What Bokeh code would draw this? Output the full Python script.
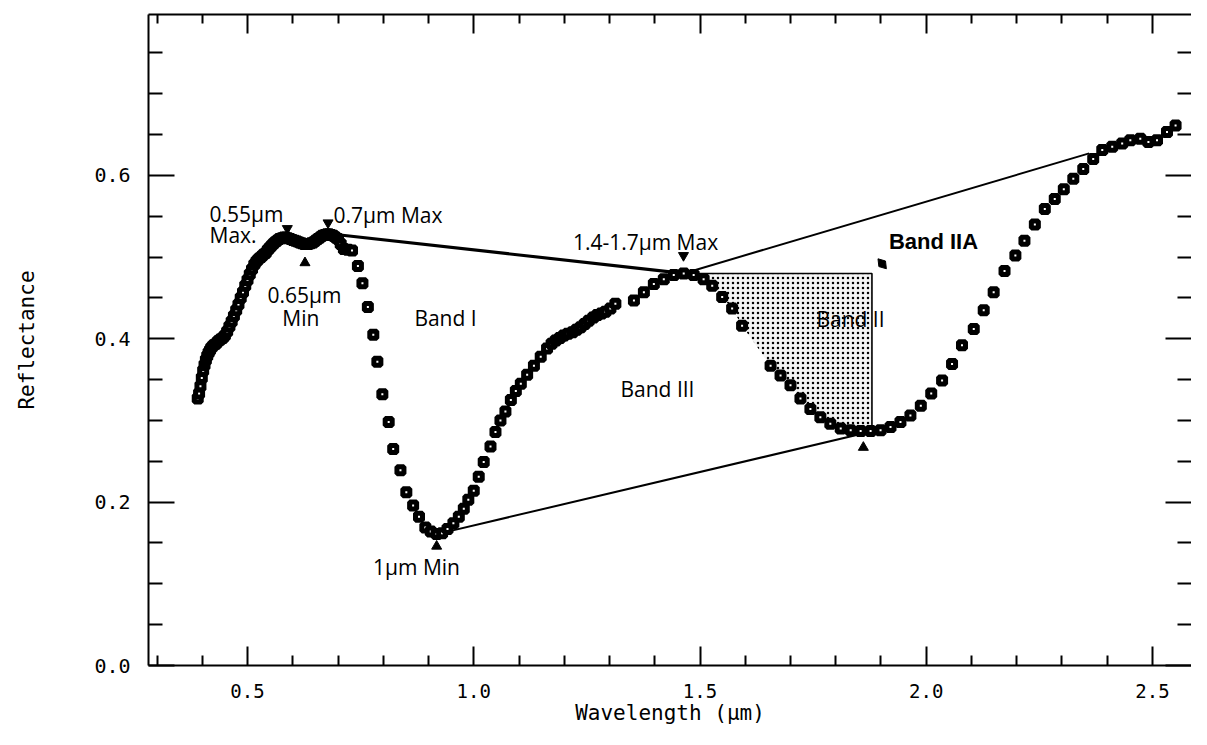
from bokeh.plotting import figure
from bokeh.models import Range1d, LinearAxis, Label, FixedTicker, NumeralTickFormatter
from bokeh.embed import file_html
from bokeh.resources import INLINE

# ---- spectrum ----
wavelength = [0.390, 0.393, 0.396, 0.399, 0.402, 0.405, 0.408, 0.411, 0.414, 0.417,
              0.420, 0.425, 0.430, 0.435, 0.440, 0.445, 0.450, 0.455, 0.460, 0.465,
              0.470, 0.475, 0.480, 0.485, 0.490, 0.495, 0.500, 0.505, 0.510, 0.515,
              0.520, 0.525, 0.530, 0.535, 0.540, 0.545, 0.550, 0.555, 0.560, 0.565,
              0.570, 0.575, 0.580, 0.585, 0.590, 0.595, 0.600, 0.605, 0.610, 0.615,
              0.620, 0.625, 0.630, 0.635, 0.640, 0.645, 0.650, 0.655, 0.660, 0.665,
              0.670, 0.675, 0.680, 0.685, 0.690, 0.695, 0.700, 0.706, 0.713, 0.722,
              0.731, 0.744, 0.754, 0.766,
              0.778, 0.787, 0.798, 0.812, 0.822, 0.838, 0.851, 0.866, 0.879, 0.893,
              0.905, 0.918, 0.930, 0.942, 0.955, 0.967, 0.978, 0.988, 1.000, 1.011,
              1.022, 1.037, 1.048, 1.059, 1.070, 1.082, 1.093, 1.104, 1.118, 1.133,
              1.148, 1.162, 1.172, 1.181, 1.190, 1.199, 1.208, 1.218, 1.227, 1.236,
              1.245, 1.254, 1.264, 1.273, 1.282, 1.291, 1.302, 1.313,
              1.354, 1.376, 1.398, 1.420, 1.442, 1.464, 1.486, 1.508, 1.527, 1.549,
              1.571, 1.593,
              1.656, 1.678, 1.700, 1.722, 1.744, 1.766, 1.788, 1.811, 1.833, 1.855,
              1.877, 1.899, 1.921, 1.943, 1.965, 1.988, 2.011, 2.035, 2.057, 2.079,
              2.105, 2.127, 2.149, 2.173, 2.197, 2.217, 2.240, 2.262, 2.284, 2.304,
              2.325, 2.347, 2.369, 2.389, 2.411, 2.433, 2.451, 2.473, 2.491, 2.510,
              2.532, 2.551]
reflectance = [0.327, 0.333, 0.342, 0.352, 0.361, 0.368, 0.374, 0.379, 0.383, 0.386,
               0.389, 0.392, 0.394, 0.397, 0.399, 0.401, 0.404, 0.409, 0.415, 0.421,
               0.428, 0.435, 0.442, 0.450, 0.457, 0.465, 0.472, 0.479, 0.485, 0.491,
               0.495, 0.498, 0.500, 0.503, 0.505, 0.509, 0.512, 0.515, 0.518, 0.520,
               0.522, 0.523, 0.524, 0.524, 0.523, 0.522, 0.521, 0.520, 0.519, 0.518,
               0.517, 0.516, 0.516, 0.516, 0.517, 0.518, 0.520, 0.522, 0.524, 0.526,
               0.527, 0.528, 0.528, 0.527, 0.526, 0.524, 0.522, 0.516, 0.510, 0.509,
               0.508, 0.489, 0.468, 0.439,
               0.405, 0.372, 0.332, 0.298, 0.265, 0.239, 0.212, 0.196, 0.182, 0.169,
               0.164, 0.161, 0.162, 0.167, 0.174, 0.182, 0.192, 0.203, 0.214, 0.231,
               0.249, 0.268, 0.286, 0.300, 0.311, 0.325, 0.336, 0.345, 0.356, 0.367,
               0.378, 0.388, 0.394, 0.398, 0.401, 0.404, 0.406, 0.408, 0.411, 0.414,
               0.418, 0.422, 0.426, 0.429, 0.431, 0.433, 0.437, 0.443,
               0.447, 0.457, 0.467, 0.473, 0.478, 0.480, 0.478, 0.473, 0.465, 0.451,
               0.437, 0.416,
               0.367, 0.355, 0.343, 0.327, 0.314, 0.304, 0.296, 0.290, 0.288, 0.287,
               0.287, 0.288, 0.292, 0.298, 0.306, 0.318, 0.333, 0.349, 0.369, 0.392,
               0.412, 0.435, 0.457, 0.483, 0.502, 0.520, 0.540, 0.559, 0.571, 0.583,
               0.596, 0.608, 0.620, 0.631, 0.635, 0.639, 0.643, 0.645, 0.641, 0.643,
               0.653, 0.661]

# continuum lines
band1_line_x = [0.690, 1.464]
band1_line_y = [0.528, 0.480]
upper_line_x = [1.464, 2.360]
upper_line_y = [0.480, 0.627]
lower_line_x = [0.935, 1.860]
lower_line_y = [0.163, 0.284]

# Band II area: bounded by the 1.4-1.7 um maximum level and the 2 um minimum position
band2_level = 0.480
band2_start = 1.464
band2_edge = 1.880
band2_bottom = 0.287

# arrows marking the band extrema
down_arrow_x = [0.588, 0.678, 1.4635]
down_arrow_y = [0.535, 0.542, 0.502]
up_arrow_x = [0.627, 0.918, 1.861]
up_arrow_y = [0.493, 0.146, 0.267]
band2a_mark_x = [1.9026]
band2a_mark_y = [0.4918]

# axis ticks
x_major = [0.5, 1.0, 1.5, 2.0, 2.5]
x_minor = [0.3, 0.4, 0.6, 0.7, 0.8, 0.9, 1.1, 1.2, 1.3, 1.4, 1.6, 1.7, 1.8, 1.9,
           2.1, 2.2, 2.3, 2.4]
y_major = [0.0, 0.2, 0.4, 0.6]
y_minor = [0.05, 0.10, 0.15, 0.25, 0.30, 0.35, 0.45, 0.50, 0.55, 0.65, 0.70, 0.75]

AX_FONT = "DejaVu Sans Mono"
ANN_FONT = "Open Sans"

p = figure(width=1191, height=729, output_backend="svg", toolbar_location=None,
           x_range=Range1d(0.2812, 2.5862), y_range=Range1d(0.0, 0.797),
           x_axis_location=None, y_axis_location=None,
           min_border_left=148, min_border_right=0, min_border_top=14,
           min_border_bottom=64)
p.outline_line_color = None
p.xgrid.visible = False
p.ygrid.visible = False
p.background_fill_color = "white"
p.border_fill_color = "white"


def base_style(ax):
    ax.major_tick_out = 0
    ax.minor_tick_out = 0
    ax.axis_line_width = 2
    ax.major_tick_line_width = 2
    ax.minor_tick_line_width = 2
    ax.axis_line_color = "black"
    ax.major_tick_line_color = "black"
    ax.minor_tick_line_color = "black"


def labelled_axis(major, minor, label, major_in, minor_in):
    ax = LinearAxis(ticker=FixedTicker(ticks=major, minor_ticks=minor),
                    formatter=NumeralTickFormatter(format="0.0"), axis_label=label)
    base_style(ax)
    ax.major_tick_in = major_in
    ax.minor_tick_in = minor_in
    ax.major_label_text_font = AX_FONT
    ax.major_label_text_font_size = "20px"
    ax.major_label_text_color = "black"
    ax.axis_label_text_font = AX_FONT
    ax.axis_label_text_font_size = "21px"
    ax.axis_label_text_font_style = "normal"
    ax.axis_label_text_color = "black"
    return ax


def tick_only_axis(ticks, length, show_line):
    # an axis without labels: the ticks are given as "minor" ticks only
    ax = LinearAxis(ticker=FixedTicker(ticks=[], minor_ticks=ticks))
    base_style(ax)
    ax.minor_tick_in = length
    ax.major_tick_in = 0
    ax.major_label_standoff = 0
    ax.axis_label_standoff = 0
    if not show_line:
        ax.axis_line_color = None
    return ax


xb = labelled_axis(x_major, x_minor, "Wavelength (μm)", 19, 10)
xb.major_label_text_font_size = "19px"
xb.major_label_standoff = 18
xb.axis_label_standoff = 0
p.add_layout(xb, "below")

yl = labelled_axis(y_major, y_minor, "Reflectance", 26, 14)
yl.major_label_standoff = 18
yl.axis_label_standoff = 52
p.add_layout(yl, "left")

p.add_layout(tick_only_axis(x_major, 19, True), "above")
p.add_layout(tick_only_axis(x_minor, 9, False), "above")
p.add_layout(tick_only_axis(y_major, 26, False), "right")
p.add_layout(tick_only_axis(y_minor, 14, False), "right")

# Band II stippled area
sel = [(w, r) for w, r in zip(wavelength, reflectance) if band2_start < w <= band2_edge]
patch_x = [band2_start, band2_edge, band2_edge] + [w for w, r in reversed(sel)]
patch_y = [band2_level, band2_level, band2_bottom] + [r for w, r in reversed(sel)]
p.patch(patch_x, patch_y, fill_color="#f4f4f4", line_color=None,
        hatch_pattern="dot", hatch_color="black", hatch_scale=5, hatch_weight=0.9)
p.line([band2_start, band2_edge, band2_edge], [band2_level, band2_level, band2_bottom],
       line_color="black", line_width=1.6)

# continua
p.line(band1_line_x, band1_line_y, line_color="black", line_width=3.2)
p.line(upper_line_x, upper_line_y, line_color="black", line_width=2)
p.line(lower_line_x, lower_line_y, line_color="black", line_width=2)

# spectrum
p.scatter(wavelength, reflectance, marker="square", size=7, fill_color="white",
          line_color="black", line_width=5)

# arrows
p.scatter(down_arrow_x, down_arrow_y, marker="inverted_triangle", size=10, color="black")
p.scatter(up_arrow_x, up_arrow_y, marker="triangle", size=10, color="black")
p.scatter(band2a_mark_x, band2a_mark_y, marker="diamond", size=13, angle=0.7, color="black")

labels = [
    ("0.55μm", 0.416, 0.553, "left", "normal"),
    ("Max.", 0.416, 0.5265, "left", "normal"),
    ("0.7μm Max", 0.690, 0.552, "left", "normal"),
    ("0.65μm", 0.626, 0.454, "center", "normal"),
    ("Min", 0.618, 0.426, "center", "normal"),
    ("Band I", 0.9376, 0.425, "center", "normal"),
    ("1μm Min", 0.8735, 0.121, "center", "normal"),
    ("1.4-1.7μm Max", 1.3796, 0.519, "center", "normal"),
    ("Band III", 1.406, 0.339, "center", "normal"),
    ("Band II", 1.8326, 0.4237, "center", "normal"),
    ("Band IIA", 2.016, 0.519, "center", "bold"),
]
for txt, lx, ly, al, st in labels:
    font = "Liberation Sans" if st == "bold" else ANN_FONT
    p.add_layout(Label(x=lx, y=ly, text=txt, text_font=font,
                       text_font_size="21px" if st != "bold" else "22px",
                       text_font_style=st, text_align=al, text_baseline="middle",
                       text_color="black"))

open("out.html", "w").write(file_html(p, INLINE))
